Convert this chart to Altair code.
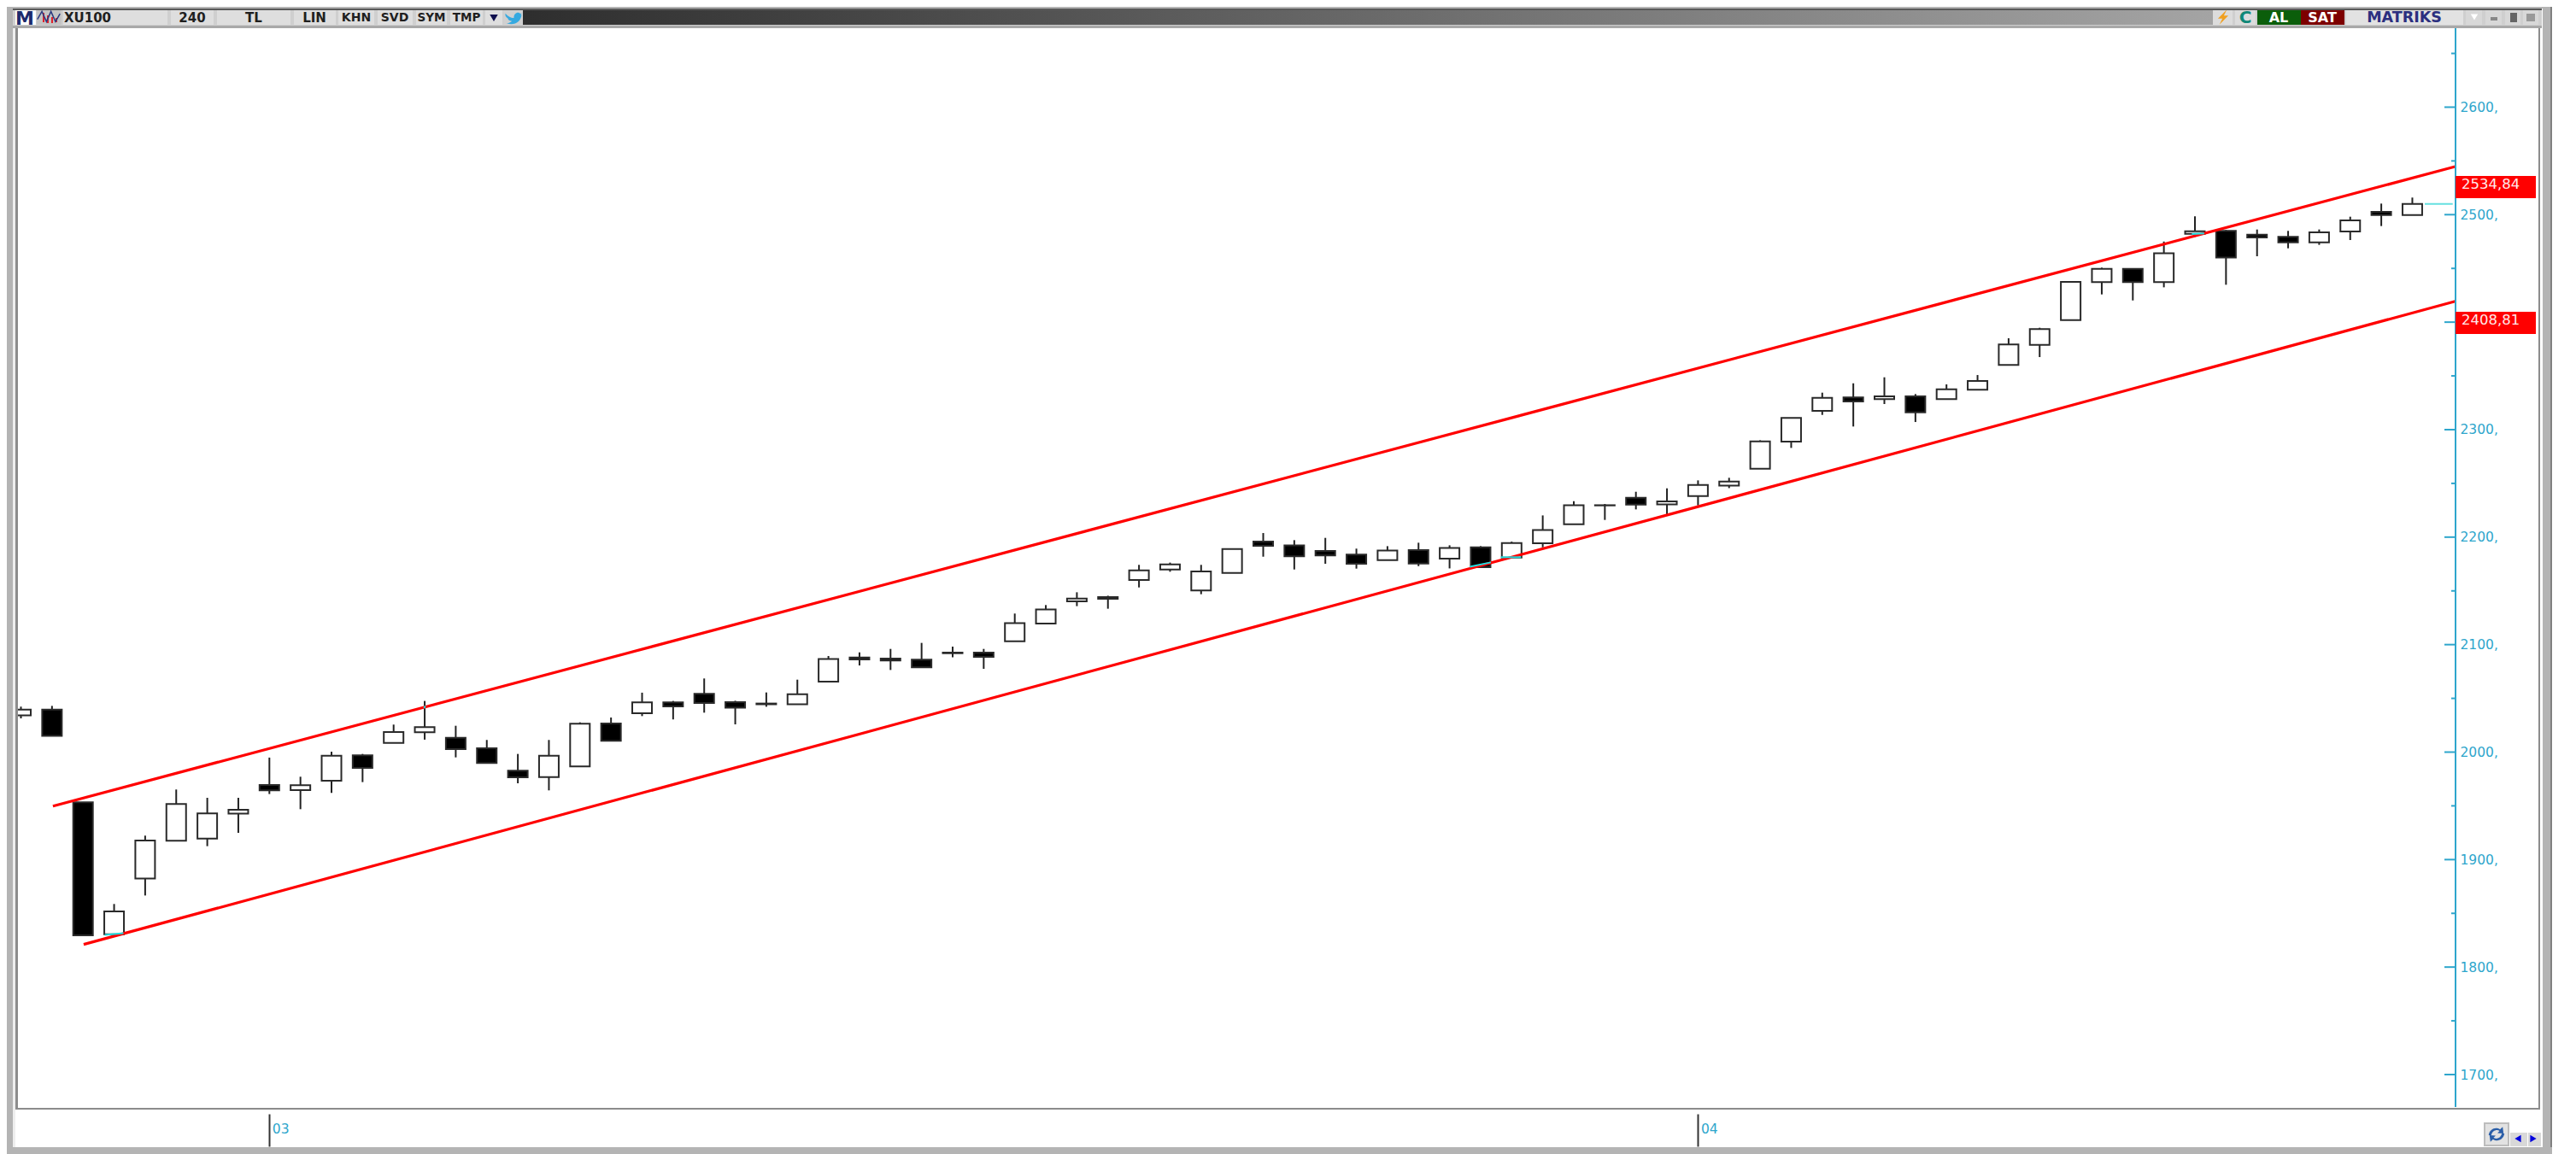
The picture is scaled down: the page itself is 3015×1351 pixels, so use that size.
import altair as alt
import pandas as pd

# ---- OHLC values (78 four-hour candles of XU100) ----
highs = [2042.3,2043.0,1953.3,1858.7,1922.3,1965.2,1957.5,1957.5,1994.9,1977.1,2000.4,1998.3,2025.6,2047.6,2024.5,2011.3,1998.3,2011.3,2027.7,2032.2,
         2055.3,2047.6,2068.5,2047.8,2055.5,2067.4,2089.4,2092.8,2096.0,2101.6,2098.1,2096.0,2128.9,2136.8,2148.7,2145.5,2174.2,2176.3,2174.2,2189.0,
         2203.8,2197.2,2199.3,2189.3,2191.6,2194.8,2192.4,2191.6,2195.8,2220.2,2233.5,2230.8,2242.2,2245.4,2252.8,2255.2,2290.1,2311.0,2334.4,2343.1,
         2348.7,2333.1,2342.1,2350.8,2385.0,2394.8,2437.4,2450.7,2449.6,2475.0,2498.4,2485.7,2486.2,2484.9,2486.2,2498.1,2510.3,2515.9]
body_top = [2039.6,2039.6,1953.3,1851.8,1917.8,1951.7,1942.9,1946.4,1969.4,1969.2,1996.7,1997.0,2018.7,2023.2,2013.4,2003.6,1982.7,1996.7,2026.4,2026.7,
            2046.3,2046.3,2054.2,2046.5,2045.2,2053.9,2086.7,2088.1,2087.0,2086.0,2092.6,2092.6,2119.9,2132.8,2142.9,2144.2,2169.1,2174.7,2168.0,2189.0,
            2195.9,2192.4,2187.1,2183.7,2187.6,2187.9,2190.0,2190.5,2194.5,2206.7,2229.7,2229.7,2236.6,2233.2,2248.6,2251.7,2289.1,2311.0,2329.6,2329.9,
            2330.9,2330.9,2337.6,2345.3,2379.2,2393.5,2437.4,2449.6,2449.6,2464.0,2484.6,2484.9,2481.4,2479.3,2483.5,2494.7,2502.6,2510.0]
body_bottom = [2034.1,2015.0,1829.6,1830.6,1882.3,1917.5,1919.6,1942.7,1964.4,1964.7,1973.4,1985.3,2008.6,2018.4,2002.8,1989.8,1976.6,1976.8,1986.7,2010.5,
               2036.2,2042.6,2045.7,2041.4,2044.5,2044.6,2065.5,2086.2,2085.2,2078.8,2092.0,2088.6,2103.2,2119.6,2140.2,2142.6,2160.1,2169.9,2150.3,2166.7,
               2191.9,2182.1,2182.9,2175.2,2178.6,2175.4,2179.9,2172.0,2181.0,2194.3,2212.0,2229.5,2230.3,2230.5,2238.2,2248.0,2263.7,2288.8,2317.4,2326.2,
               2328.3,2316.1,2328.3,2337.1,2360.1,2378.9,2401.9,2437.2,2437.2,2437.2,2482.2,2460.2,2478.8,2474.3,2474.3,2484.3,2499.7,2499.7]
lows = [2031.4,2015.0,1829.6,1828.2,1866.6,1917.5,1912.5,1924.9,1961.0,1946.9,1962.0,1972.1,2008.6,2011.6,1995.1,1989.8,1971.0,1964.4,1986.7,2010.5,
        2033.5,2030.4,2036.7,2025.8,2042.2,2044.6,2065.5,2080.6,2076.4,2078.8,2088.3,2077.5,2103.2,2119.6,2135.8,2133.4,2153.2,2167.8,2146.9,2166.7,
        2181.8,2169.9,2175.2,2170.7,2178.6,2173.0,2170.9,2172.0,2181.0,2190.5,2212.0,2216.0,2225.8,2221.0,2229.5,2245.6,2263.7,2283.0,2313.7,2302.9,
        2323.8,2307.1,2328.3,2337.1,2360.1,2367.5,2401.9,2425.8,2420.2,2432.4,2479.3,2434.8,2461.3,2468.7,2471.9,2476.4,2489.4,2499.7]
falling = [0,1,1,0,0,0,0,0,1,0,0,1,0,0,1,1,1,0,0,1,
           0,1,1,1,0,0,0,1,1,1,0,1,0,0,0,1,0,0,0,0,
           1,1,1,1,0,1,0,1,0,0,0,0,1,0,0,0,0,0,0,1,
           0,1,0,0,0,0,0,0,1,0,0,1,1,1,0,0,1,0]

channel_x = [1.03, 78.38]
channel_upper = [1949.8, 2544.7]
channel_x_low = [2.02, 78.38]
channel_lower = [1821.1, 2419.4]

major_ticks = [1700,1800,1900,2000,2100,2200,2300,2400,2500,2600]
minor_ticks = [1750,1850,1950,2050,2150,2250,2350,2450,2550,2650]
axis_labels = [1700,1800,1900,2000,2100,2200,2300,2500,2600]
month_pos = [8, 54]
month_names = ["03", "04"]
level_texts = ["2534,84", "2408,81"]
cyan_x0 = [2.7, 47-0.35, 47.65, 69.9, 12.98]
cyan_x1 = [3.3, 47+0.33, 48.3, 70.3, 13.02]
cyan_p0 = [1830.0, 2172.5, 2181.3, 2482.0, 2041.0]
cyan_p1 = [1831.5, 2176.5, 2181.3, 2482.6, 2043.0]
last_x = [77.4, 78.3]
last_p = [2510.0, 2510.0]

# ---- layout ----
W, H = 2999, 1343
X0, DX = 24.5, 36.35
PY, PX = 251.3, 1.2584
xdom = [(8 - X0) / DX, (8 + W - X0) / DX]
ydom = [2500 - (8 + H - PY) / PX, 2500 - (8 - PY) / PX]
xs = alt.Scale(domain=xdom, nice=False, zero=False, padding=0)
ys = alt.Scale(domain=ydom, nice=False, zero=False)

df = pd.DataFrame({"i": list(range(len(highs))), "hi": highs, "top": body_top, "bot": body_bottom,
                   "lo": lows, "down": ["d" if f else "u" for f in falling]})
one = pd.DataFrame({"a": [0]})
FONT = "DejaVu Sans"
BLUE = "#2ea6cc"


def rect(x1, y1, x2, y2, color):
    return alt.Chart(one).mark_rect(color=color).encode(
        x=alt.value(x1 - 8), x2=alt.value(x2 - 8), y=alt.value(y1 - 8), y2=alt.value(y2 - 8))


def label(x, y, text, size=14, color="#222222", bold=False, align="center", font=FONT, italic=False):
    return alt.Chart(one).mark_text(text=text, fontSize=size, color=color, font=font, align=align,
                                    baseline="middle", fontWeight="bold" if bold else "normal",
                                    fontStyle="italic" if italic else "normal").encode(
        x=alt.value(x - 8), y=alt.value(y - 8))


def glyph(x, y, shape, size, color, filled=True, sw=1.5):
    return alt.Chart(one).mark_point(shape=shape, size=size, color=color, filled=filled, opacity=1,
                                     strokeWidth=sw).encode(x=alt.value(x - 8), y=alt.value(y - 8))


BIRD = ("M-1,-0.55 C-0.6,-0.1 -0.2,0.05 0.05,0 C0,-0.6 0.6,-0.85 0.85,-0.5 L1,-0.6 L0.9,-0.35 L1,-0.4 "
        "C0.9,0.5 0.1,1 -0.85,0.65 C-0.5,0.65 -0.3,0.5 -0.2,0.4 C-0.5,0.35 -0.65,0.25 -0.7,0.05 "
        "C-0.95,-0.1 -1.05,-0.3 -1,-0.55 Z")
BOLT = "M0.5,-1 L-0.7,0.2 L-0.1,0.2 L-0.5,1 L0.7,-0.2 L0.1,-0.2 Z"
SWIRL = ("M-0.9,0.1 C-0.8,-0.6 -0.1,-0.9 0.4,-0.55 L0.7,-0.85 L0.8,-0.1 L0.1,-0.15 L0.35,-0.4 "
         "C0,-0.6 -0.5,-0.4 -0.6,0.1 Z M0.9,-0.1 C0.8,0.6 0.1,0.9 -0.4,0.55 L-0.7,0.85 L-0.8,0.1 "
         "L-0.1,0.15 L-0.35,0.4 C0,0.6 0.5,0.4 0.6,-0.1 Z")
WAVE = "M-1,0.2 L-0.6,-0.5 L-0.2,0.4 L0.2,-0.5 L0.6,0.4 L1,-0.3"

# ---- price layers ----
axis_y = alt.Axis(orient="right", offset=-133, values=axis_labels, domain=False, ticks=False, grid=False,
                  title=None, labelColor=BLUE, labelFont=FONT, labelFontSize=15.5, labelPadding=5,
                  labelExpr="format(datum.value,'d')+','", labelOverlap=False, zindex=1)
axis_x = alt.Axis(orient="bottom", offset=-47, values=month_pos, domain=False, grid=False, title=None,
                  tickSize=38, tickColor="#333333", tickWidth=2, labelColor=BLUE, labelFont=FONT,
                  labelFontSize=15.5, labelAlign="left", labelBaseline="middle", labelPadding=-21,
                  labelOffset=3, zindex=1,
                  labelExpr="datum.value==%d ? '%s' : '%s'" % (month_pos[0], month_names[0], month_names[1]))

wicks = alt.Chart(df).mark_rule(color="#222222", strokeWidth=2).encode(
    x=alt.X("i:Q", scale=xs, axis=axis_x),
    y=alt.Y("lo:Q", scale=ys, axis=axis_y),
    y2="hi:Q")
bodies = alt.Chart(df).mark_bar(size=23, stroke="#2a2a2a", strokeWidth=2, orient="vertical").encode(
    x=alt.X("i:Q", scale=xs),
    y=alt.Y("top:Q", scale=ys),
    y2="bot:Q",
    fill=alt.Fill("down:N", scale=alt.Scale(domain=["d", "u"], range=["#000000", "#ffffff"]), legend=None))


def seg(xa, pa, color, sw):
    d = pd.DataFrame({"x": xa, "p": pa})
    return alt.Chart(d).mark_line(color=color, strokeWidth=sw).encode(
        x=alt.X("x:Q", scale=xs), y=alt.Y("p:Q", scale=ys))


upper = seg(channel_x, channel_upper, "#ff0000", 3.2)
lower = seg(channel_x_low, channel_lower, "#ff0000", 3.2)
cyan_df = pd.DataFrame({"x": cyan_x0, "x2": cyan_x1, "p": cyan_p0, "p2": cyan_p1})
cyan = alt.Chart(cyan_df).mark_rule(color="#22dde0", strokeWidth=2).encode(
    x=alt.X("x:Q", scale=xs), x2="x2:Q", y=alt.Y("p:Q", scale=ys), y2="p2:Q")
last = seg(last_x, last_p, "#66e0e0", 2)

maj = alt.Chart(pd.DataFrame({"p": major_ticks})).mark_rule(color=BLUE, strokeWidth=2).encode(
    y=alt.Y("p:Q", scale=ys), x=alt.value(2861 - 8), x2=alt.value(2874 - 8))
mnr = alt.Chart(pd.DataFrame({"p": minor_ticks})).mark_rule(color=BLUE, strokeWidth=2).encode(
    y=alt.Y("p:Q", scale=ys), x=alt.value(2869 - 8), x2=alt.value(2874 - 8))

# ---- window chrome ----
GREY = "#b4b4b4"
CELL = "#dedede"
chrome = [
    rect(8, 8, 15, 1351, GREY), rect(15, 8, 18, 1343, "#eeeeee"), rect(18, 33, 21, 1299, "#8c8c8c"),
    rect(8, 8, 2987, 10, GREY), rect(15, 10, 2975, 12, "#5a5a5a"), rect(15, 12, 2975, 30, "#cfcfcf"),
    rect(15, 30, 2975, 33, "#a8a8a8"), rect(21, 1297, 2973, 1299, "#8c8c8c"),
    rect(2971, 33, 2973, 1299, "#8c8c8c"), rect(2976, 8, 2985, 1351, GREY), rect(2985, 8, 2987, 1351, "#808080"),
    rect(8, 1343, 2987, 1351, GREY),
]
cells = [(18, 42, "#ffffff"), (43, 72, "#c4c4c4"), (74, 196, CELL), (200, 250, CELL), (254, 340, CELL),
         (344, 393, CELL), (396, 438, CELL), (442, 483, CELL), (487, 523, CELL), (527, 565, CELL),
         (568, 588, CELL), (590, 612, "#d0d0d0")]
for a, b, c in cells:
    chrome.append(rect(a, 12, b, 29, c))
grad = alt.Chart(one).mark_rect(color=alt.LinearGradient(
    gradient="linear", x1=0, x2=1, y1=0, y2=0,
    stops=[alt.GradientStop(offset=0, color="#2e2e2e"), alt.GradientStop(offset=1, color="#a4a4a4")])).encode(
    x=alt.value(612 - 8), x2=alt.value(2590 - 8), y=alt.value(12 - 8), y2=alt.value(29 - 8))
chrome.append(grad)
for a, b, c in [(2590, 2613, "#dcdcdc"), (2616, 2640, "#dcdcdc"), (2642, 2693, "#0b5e0b"), (2693, 2744, "#7d0000"),
                (2746, 2883, "#e2e2e2"), (2886, 2905, "#d8d8d8"), (2909, 2928, "#d8d8d8"),
                (2932, 2950, "#d8d8d8"), (2953, 2971, "#d8d8d8")]:
    chrome.append(rect(a, 12, b, 29, c))
chrome += [
    label(29, 22, "M", 22, "#1d2a6b", True),
    rect(50, 15, 52, 26, "#e0202a"), rect(55, 18, 57, 27, "#e0202a"), rect(60, 20, 62, 27, "#e0202a"),
    rect(65, 21, 67, 26, "#e0202a"),
    glyph(57, 20, WAVE, 700, "#2a3a80", False, 1.5),
    label(75, 21, "XU100", 15, "#1f1f1f", True, "left"),
    label(225, 21, "240", 15, "#1f1f1f", True),
    label(297, 21, "TL", 15, "#1f1f1f", True),
    label(368, 21, "LIN", 15, "#1f1f1f", True),
    label(417, 21, "KHN", 14, "#1f1f1f", True),
    label(462, 21, "SVD", 14, "#1f1f1f", True),
    label(505, 21, "SYM", 13.5, "#1f1f1f", True),
    label(546, 21, "TMP", 13.5, "#1f1f1f", True),
    glyph(578, 21, "triangle-down", 90, "#10104e"),
    glyph(601, 21, BIRD, 360, "#35a9e0"),
    glyph(2602, 20, BOLT, 300, "#f0a020"),
    label(2628, 21, "C", 20, "#108878", True),
    label(2667, 21, "AL", 16, "#ffffff", True),
    label(2718, 21, "SAT", 16, "#ffffff", True),
    label(2814, 21, "MATRIKS", 17.5, "#2b2f7f", True),
    glyph(2896, 20, "triangle-down", 70, "#ffffff"),
    rect(2915, 20, 2923, 24, "#888888"), rect(2938, 15, 2946, 26, "#666666"), rect(2957, 16, 2967, 25, "#999999"),
    # lower right buttons
    rect(2907, 1314, 2937, 1342, "#bdbdbd"), rect(2909, 1316, 2935, 1340, "#e2e2e2"),
    glyph(2922, 1328, SWIRL, 420, "#2a5ea8"),
    rect(2938, 1326, 2958, 1342, "#d8d8d8"), rect(2959, 1326, 2974, 1342, "#d8d8d8"),
    glyph(2947, 1333, "triangle-left", 70, "#0000dd"), glyph(2965, 1333, "triangle-right", 70, "#0000dd"),
]

# price axis line and red level boxes
side = [
    rect(2873, 33, 2875, 1296, BLUE),
    rect(2874, 206, 2968, 232, "#ff0000"), rect(2874, 365, 2968, 391, "#ff0000"),
    label(2881, 216, level_texts[0], 16.5, "#ffe9e9", False, "left"),
    label(2881, 375, level_texts[1], 16.5, "#ffe9e9", False, "left"),
]

layers = [rect(8, 8, 2987, 1351, "#ffffff"), wicks, bodies, upper, lower, cyan, last, maj, mnr] + side + chrome
chart = alt.layer(*layers).resolve_scale(x="shared", y="shared").properties(
    width=W, height=H, padding=0, background="#ffffff",
    autosize=alt.AutoSizeParams(type="none")
).configure_view(stroke=None)

chart.save("out.html", embed_options={"renderer": "svg", "actions": False})
